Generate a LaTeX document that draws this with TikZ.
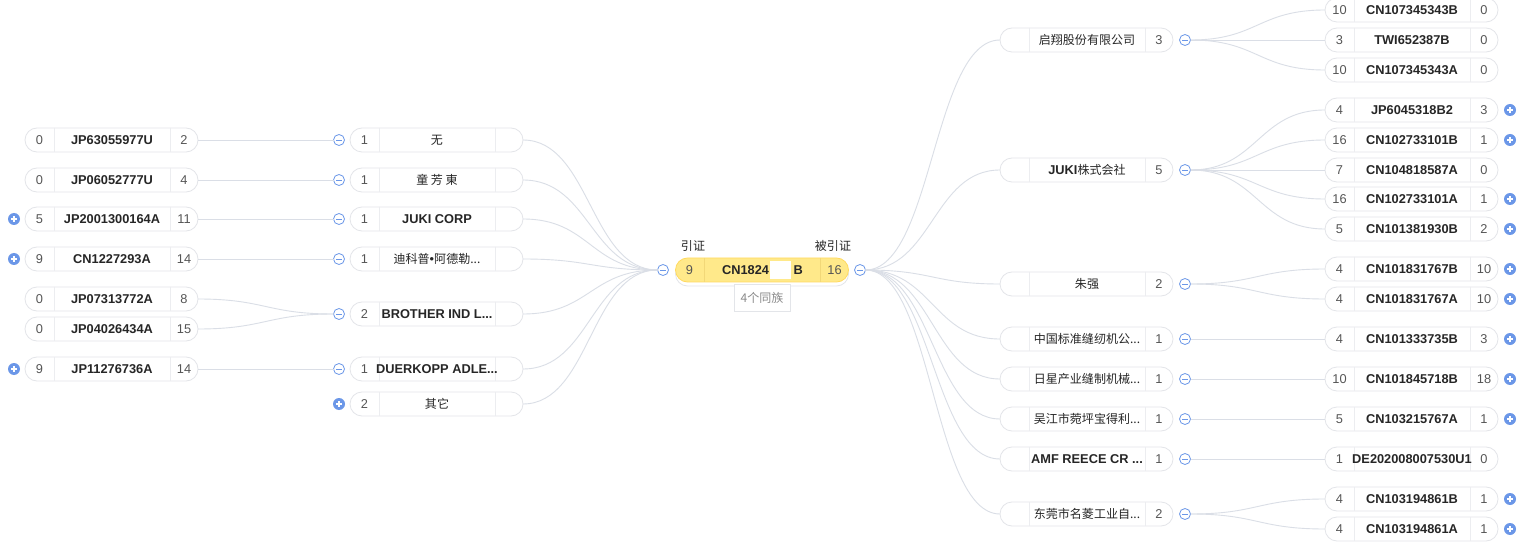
\documentclass[tikz,border=0pt]{standalone}
\usepackage{fontspec}
\setmainfont{Liberation Sans}
\newfontfamily\cjk[Scale=0.94]{Noto Sans CJK SC}
\newcommand{\zh}[1]{{\cjk\mdseries #1}}
\definecolor{icblue}{HTML}{6B97E8}
\definecolor{lnk}{HTML}{DADEE6}
\definecolor{pillb}{HTML}{E3E5E9}
\definecolor{divc}{HTML}{ECEDF0}
\definecolor{numc}{HTML}{555555}
\definecolor{idc}{HTML}{262626}
\definecolor{cfill}{HTML}{FFE98A}
\definecolor{cborder}{HTML}{FFDA60}
\definecolor{cdiv}{HTML}{F2D878}
\definecolor{greytxt}{HTML}{8A8A8A}
\tikzset{
 pillbox/.style={rectangle, draw=pillb, fill=white, rounded corners=12pt, minimum width=173pt, minimum height=24pt, inner sep=0pt, outer sep=0pt, line width=0.8pt},
 divl/.style={draw=divc, line width=0.8pt},
 txt/.style={inner sep=0pt, outer sep=0pt, text height=9.2pt, text depth=0pt, anchor=center, font=\fontsize{12.8}{15}\selectfont},
 numtxt/.style={txt, text=numc},
 idtxt/.style={txt, text=idc, font=\fontsize{12.8}{15}\selectfont\bfseries},
 conn/.style={draw=lnk, line width=0.9pt},
 minusic/.style={circle, draw=icblue, fill=white, line width=0.8pt, minimum size=11pt, inner sep=0pt, outer sep=0pt,
   path picture={\draw[icblue, line width=0.9pt] ([xshift=-3pt]path picture bounding box.center) -- ([xshift=3pt]path picture bounding box.center);}},
 plusic/.style={circle, fill=icblue, minimum size=12pt, inner sep=0pt, outer sep=0pt,
   path picture={\draw[white, line width=1.2pt] ([xshift=-3pt]path picture bounding box.center) -- ([xshift=3pt]path picture bounding box.center)
     ([yshift=-3pt]path picture bounding box.center) -- ([yshift=3pt]path picture bounding box.center);}},
}
% name, x-left, y-center, left text, middle text, right text
\newcommand{\mmPill}[6]{%
 \node[pillbox] (#1) at (#2+86.5,#3) {};
 \draw[divl] (#2+29,#3-12) -- (#2+29,#3+12);
 \draw[divl] (#2+145,#3-12) -- (#2+145,#3+12);
 \node[numtxt] (#1-l) at (#2+14.5,#3) {#4};
 \node[idtxt] (#1-m) at (#2+87,#3) {#5};
 \node[numtxt] (#1-r) at (#2+159,#3) {#6};
}
\newcommand{\mmLink}[2]{\draw[conn] (#1) .. controls +(67,0) and +(-67,0) .. (#2);}
\begin{document}
\begin{tikzpicture}[x=1pt, y=-1pt]
\useasboundingbox (0,0) rectangle (1527,556);
\fill[white] (0,0) rectangle (1527,556);

% ---------- centre ----------
\node[pillbox] (cshadow) at (762,274) {};
\node[pillbox, draw=cborder, fill=cfill] (ctr) at (762,270) {};
\draw[draw=cdiv, line width=0.8pt] (704,258) -- (704,282);
\draw[draw=cdiv, line width=0.8pt] (820,258) -- (820,282);
\node[numtxt] (ctr-l) at (689.5,270) {9};
\node[idtxt, anchor=east] (ctr-m) at (769,270) {CN1824};
\node[idtxt, anchor=west] (ctr-m2) at (793.5,270) {B};
\fill[white] (770,261) rectangle (791,279);
\node[numtxt] (ctr-r) at (834.5,270) {16};
\node[txt, text=idc] (lblA) at (693,246) {\zh{引证}};
\node[txt, text=idc] (lblB) at (833,246) {\zh{被引证}};
\node[rectangle, draw=pillb, fill=white, line width=0.8pt, minimum width=56pt, minimum height=27pt, inner sep=0pt] (fam) at (762,297.5) {};
\node[txt, text=greytxt] (famt) at (762,298) {\zh{4个同族}};
\node[minusic] (cL) at (663,270) {};
\node[minusic] (cR) at (860,270) {};

% ---------- left: patents ----------
\mmPill{lp1}{25}{140}{0}{JP63055977U}{2}
\mmPill{lp2}{25}{180}{0}{JP06052777U}{4}
\mmPill{lp3}{25}{219}{5}{JP2001300164A}{11}
\mmPill{lp4}{25}{259}{9}{CN1227293A}{14}
\mmPill{lp5}{25}{299}{0}{JP07313772A}{8}
\mmPill{lp6}{25}{329}{0}{JP04026434A}{15}
\mmPill{lp7}{25}{369}{9}{JP11276736A}{14}
\node[plusic] (plp3) at (14,219) {};
\node[plusic] (plp4) at (14,259) {};
\node[plusic] (plp7) at (14,369) {};

% ---------- left: assignees ----------
\mmPill{la1}{350}{140}{1}{\zh{无}}{}
\mmPill{la2}{350}{180}{1}{\zh{童 芳 東}}{}
\mmPill{la3}{350}{219}{1}{JUKI CORP}{}
\mmPill{la4}{350}{259}{1}{\zh{迪科普}{\mdseries •}\zh{阿德勒...}}{}
\mmPill{la5}{350}{314}{2}{BROTHER IND L...}{}
\mmPill{la6}{350}{369}{1}{DUERKOPP ADLE...}{}
\mmPill{la7}{350}{404}{2}{\zh{其它}}{}
\node[minusic] (ila1) at (339,140) {};
\node[minusic] (ila2) at (339,180) {};
\node[minusic] (ila3) at (339,219) {};
\node[minusic] (ila4) at (339,259) {};
\node[minusic] (ila5) at (339,314) {};
\node[minusic] (ila6) at (339,369) {};
\node[plusic] (ila7) at (339,404) {};

% ---------- right: assignees ----------
\mmPill{ra1}{1000}{40}{}{\zh{启翔股份有限公司}}{3}
\mmPill{ra2}{1000}{170}{}{JUKI\zh{株式会社}}{5}
\mmPill{ra3}{1000}{284}{}{\zh{朱强}}{2}
\mmPill{ra4}{1000}{339}{}{\zh{中国标准缝纫机公...}}{1}
\mmPill{ra5}{1000}{379}{}{\zh{日星产业缝制机械...}}{1}
\mmPill{ra6}{1000}{419}{}{\zh{吴江市菀坪宝得利...}}{1}
\mmPill{ra7}{1000}{459}{}{AMF REECE CR ...}{1}
\mmPill{ra8}{1000}{514}{}{\zh{东莞市名菱工业自...}}{2}
\node[minusic] (ira1) at (1185,40) {};
\node[minusic] (ira2) at (1185,170) {};
\node[minusic] (ira3) at (1185,284) {};
\node[minusic] (ira4) at (1185,339) {};
\node[minusic] (ira5) at (1185,379) {};
\node[minusic] (ira6) at (1185,419) {};
\node[minusic] (ira7) at (1185,459) {};
\node[minusic] (ira8) at (1185,514) {};

% ---------- right: patents ----------
\mmPill{rp1}{1325}{10}{10}{CN107345343B}{0}
\mmPill{rp2}{1325}{40}{3}{TWI652387B}{0}
\mmPill{rp3}{1325}{70}{10}{CN107345343A}{0}
\mmPill{rp4}{1325}{110}{4}{JP6045318B2}{3}
\mmPill{rp5}{1325}{140}{16}{CN102733101B}{1}
\mmPill{rp6}{1325}{170}{7}{CN104818587A}{0}
\mmPill{rp7}{1325}{199}{16}{CN102733101A}{1}
\mmPill{rp8}{1325}{229}{5}{CN101381930B}{2}
\mmPill{rp9}{1325}{269}{4}{CN101831767B}{10}
\mmPill{rp10}{1325}{299}{4}{CN101831767A}{10}
\mmPill{rp11}{1325}{339}{4}{CN101333735B}{3}
\mmPill{rp12}{1325}{379}{10}{CN101845718B}{18}
\mmPill{rp13}{1325}{419}{5}{CN103215767A}{1}
\mmPill{rp14}{1325}{459}{1}{DE202008007530U1}{0}
\mmPill{rp15}{1325}{499}{4}{CN103194861B}{1}
\mmPill{rp16}{1325}{529}{4}{CN103194861A}{1}
\foreach \n/\y in {4/110,5/140,7/199,8/229,9/269,10/299,11/339,12/379,13/419,15/499,16/529}
  \node[plusic] (prp\n) at (1510,\y) {};

% ---------- connectors ----------
\mmLink{lp1.east}{ila1.west}
\mmLink{lp2.east}{ila2.west}
\mmLink{lp3.east}{ila3.west}
\mmLink{lp4.east}{ila4.west}
\mmLink{lp5.east}{ila5.west}
\mmLink{lp6.east}{ila5.west}
\mmLink{lp7.east}{ila6.west}
\foreach \i in {1,...,7} {\mmLink{la\i.east}{cL.west}}
\foreach \i in {1,...,8} {\mmLink{cR.east}{ra\i.west}}
\foreach \i in {1,2,3} {\mmLink{ira1.east}{rp\i.west}}
\foreach \i in {4,...,8} {\mmLink{ira2.east}{rp\i.west}}
\mmLink{ira3.east}{rp9.west}
\mmLink{ira3.east}{rp10.west}
\mmLink{ira4.east}{rp11.west}
\mmLink{ira5.east}{rp12.west}
\mmLink{ira6.east}{rp13.west}
\mmLink{ira7.east}{rp14.west}
\mmLink{ira8.east}{rp15.west}
\mmLink{ira8.east}{rp16.west}
\end{tikzpicture}
\end{document}
